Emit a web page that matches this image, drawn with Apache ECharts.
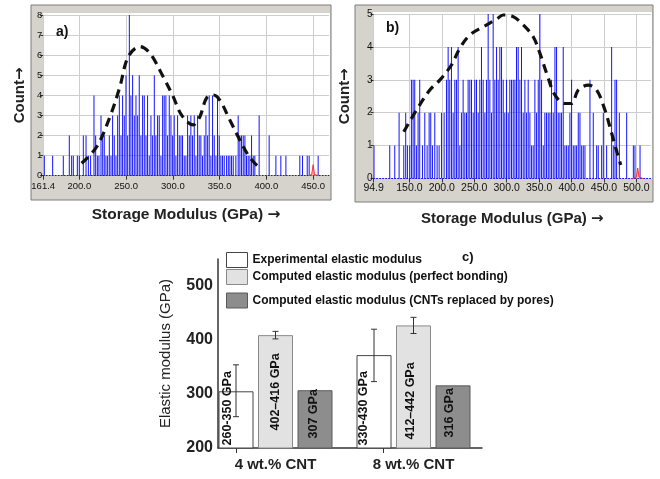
<!DOCTYPE html>
<html><head><meta charset="utf-8">
<script src="https://cdn.jsdelivr.net/npm/echarts@6/dist/echarts.min.js"></script>
<style>html,body{margin:0;padding:0;background:#fff}#c{width:660px;height:479px}</style>
</head><body><div id="c"></div>
<script>
// ---------- Panel a) histogram ----------
const aModulus = [162.6,171.5,182.9,189.3,191.8,193.6,197.9,200.0,204.3,207.2,209.7,212.1,215.7,217.5,219.3,221.0,223.2,225.0,226.7,228.5,230.3,232.1,233.9,235.6,237.4,239.2,241.0,242.8,244.6,246.3,248.1,249.9,251.7,253.5,255.2,257.0,258.8,260.6,262.4,264.1,265.9,267.7,269.5,271.3,273.0,274.8,276.6,278.4,280.2,281.9,283.7,285.5,287.3,289.1,290.8,292.6,294.4,296.2,298.0,299.8,301.5,303.3,305.1,306.9,308.7,310.4,312.2,314.0,315.8,317.6,319.3,321.1,322.9,324.7,326.5,328.2,330.0,331.8,333.6,335.4,337.2,338.9,340.7,342.5,344.3,346.1,347.8,349.6,351.4,353.2,355.0,357.5,359.3,361.0,362.8,364.6,367.4,369.9,371.7,373.5,375.3,377.1,378.8,380.6,382.4,384.2,386.0,387.7,392.3,403.0,410.2,415.5,420.9,435.8,438.7,443.7,445.8,455.4];
const aCount = [1,1,1,2,1,1,1,1,2,2,1,1,4,2,1,1,3,2,2,1,1,2,1,3,2,1,3,4,2,4,3,5,2,8,4,5,3,4,3,5,2,4,4,2,4,1,3,2,5,2,3,3,1,4,4,4,2,4,3,2,3,1,3,2,2,2,1,1,3,2,3,2,3,1,3,2,2,1,2,3,2,4,1,4,2,1,4,2,1,1,1,1,1,1,1,1,1,3,2,2,2,2,1,1,1,2,1,1,3,2,1,1,1,1,1,1,1,1];
const aFitX = [202.5,218.6,232.8,243.4,252.3,264.8,275.5,289.7,300.4,309.4,321.8,328.9,336.0,343.1,350.2,360.9,371.6,380.5,387.7,394.0];
const aFitY = [0.62,1.44,2.94,4.43,5.93,6.43,6.10,4.93,3.94,3.02,2.53,2.94,3.86,4.02,3.77,2.78,1.78,1.03,0.62,0.35];
const aMarkX = [445,448.5,450,451.5,456];
const aMarkY = [0,0.06,0.55,0.06,0];
const aTicks = [161.4,200,250,300,350,400,450];

// ---------- Panel b) histogram ----------
const bModulus = [95.5,119.8,127.5,134.2,141.4,144.4,147.0,150.6,153.2,155.8,158.3,160.9,163.5,166.0,170.2,173.8,177.4,180.5,183.0,185.6,189.2,192.8,195.9,199.5,203.6,207.2,209.8,212.3,214.9,217.5,220.1,222.6,225.2,227.8,230.3,232.9,235.5,238.1,240.6,243.2,245.8,248.4,250.9,253.5,256.1,258.6,261.2,263.8,266.4,268.9,271.5,274.1,276.6,279.2,281.8,284.4,286.9,289.5,292.1,294.7,297.2,299.8,302.4,304.9,307.5,310.1,312.7,315.2,317.8,320.4,322.9,325.5,328.1,330.7,333.2,335.8,338.4,340.9,343.5,346.1,348.7,351.2,353.8,356.4,358.9,361.5,364.1,366.7,369.2,371.8,374.4,376.9,379.5,382.1,384.6,387.2,389.8,392.4,395.0,397.5,400.1,402.7,405.3,407.8,410.4,413.0,415.6,418.1,420.7,428.4,433.5,438.7,441.2,446.4,449.0,454.1,461.8,464.4,467.0,469.5,473.7,485.0,495.3,497.8,505.6];
const bCount = [1,1,1,2,1,2,1,1,3,3,3,1,2,3,1,2,1,2,2,1,2,1,1,2,2,3,4,3,4,2,3,3,4,1,2,3,2,2,3,3,3,2,3,3,2,3,4,3,2,3,5,3,2,5,3,4,3,4,4,3,2,3,2,3,3,3,3,4,4,3,4,2,3,2,3,2,1,1,3,2,3,5,3,1,2,2,2,2,3,2,4,4,2,2,2,4,1,1,1,2,3,1,1,1,2,2,1,1,1,3,2,1,1,1,2,1,4,1,3,3,2,2,1,1,1];
const bFitX = [141.4,161.0,181.5,196.9,214.9,227.8,243.2,263.8,284.4,294.6,310.0,325.5,340.9,351.2,361.6,374.4,389.8,400.1,410.4,425.8,438.7,451.5,461.9,470.5,475.8];
const bFitY = [1.42,2.08,2.69,2.99,3.45,3.96,4.36,4.61,4.84,4.97,4.92,4.67,4.31,3.81,3.20,2.54,2.28,2.28,2.69,2.84,2.69,2.08,1.37,0.77,0.41];
const bMarkX = [494,500,502,504,510];
const bMarkY = [0,0.05,0.32,0.05,0];
const bTicks = [94.9,150,200,250,300,350,400,450,500];

// ---------- Panel c) bar chart ----------
const cCategories = ['4 wt.% CNT','8 wt.% CNT'];
const cSeriesNames = ['Experimental elastic modulus','Computed elastic modulus (perfect bonding)','Computed elastic modulus (CNTs replaced by pores)'];
const cExperimental = [305,372];
const cExperimentalLow = [258,323];
const cExperimentalHigh = [354,420];
const cPerfect = [409,427];
const cPerfectLow = [402,412];
const cPerfectHigh = [416,442];
const cPores = [307,316];
const cBarLabels = [['260-350 GPa','330-430 GPa'],['402–416 GPa','412–442 GPa'],['307 GPa','316 GPa']];
const cYTicks = [200,300,400,500];

// ---------- styling / layout ----------
const FONT = "'Liberation Sans', Arial, sans-serif";
const NARROW = "'Liberation Sans Narrow', 'Liberation Sans', Arial, sans-serif";
const ARROWFONT = "'DejaVu Sans', sans-serif";
const BLUE = '#1414ff';
const GRIDC = '#cdcdcd';
const barW = 35, barGapPx = 4.5;
const slot = barW + barGapPx;
// screen-space label shifts [dx, dy] (converted to the rotated label frame below)
const labelShift = [[[-8,-3],[-10.5,-3]],[[0,-18],[-2.5,-9]],[[-1,-10],[-3.5,-11]]];
const toLocal = s => [-s[1], s[0]];
const cFills = ['#ffffff','#e2e2e2','#8d8d8d'];
const cBorders = ['#444','#8a8a8a','#5a5a5a'];
const cGroupPos = cCategories.map((_, i) => i + 1);

const chart = echarts.init(document.getElementById('c'), null, {renderer:'canvas'});

function richName(fs){
  return {fontFamily:FONT, fontWeight:'bold', fontSize:fs, color:'#222',
    rich:{t:{fontFamily:FONT, fontWeight:'bold', fontSize:fs, color:'#222'},
          ar:{fontFamily:ARROWFONT, fontWeight:'bold', fontSize:fs, color:'#222'}}};
}
function histAxisX(idx, min, max, ticks, fs, margin){
  const nfs = idx===0?15.5:15;
  return {type:'value', gridIndex:idx, min:min, max:max,
    name:'{t|Storage Modulus (GPa) }{ar|→}', nameLocation:'middle', nameGap: idx===0?31:33,
    nameTextStyle:richName(nfs),
    axisLine:{show:true, onZero:false, lineStyle:{color:BLUE, width:1, type:[1,2]}},
    axisTick:{show:true, customValues:ticks, length:4, lineStyle:{color:'#333'}},
    axisLabel:{customValues:ticks, formatter:v=>Number(v).toFixed(1), fontFamily:NARROW, fontSize:fs, color:'#111', margin:margin},
    splitLine:{show:true, lineStyle:{color:GRIDC, width:1}}};
}
function histAxisY(idx, max, fs, gap){
  return {type:'value', gridIndex:idx, min:0, max:max, interval:1,
    name:'{t|Count}{ar|→}', nameLocation:'middle', nameGap:gap, nameRotate:90,
    nameTextStyle:richName(15),
    axisLine:{show:false},
    axisTick:{show:true, length:3, lineStyle:{color:'#333'}},
    axisLabel:{fontFamily:NARROW, fontSize:fs, color:'#111', margin:1},
    splitLine:{show:true, lineStyle:{color:GRIDC, width:1}}};
}

const option = {
  animation:false,
  backgroundColor:'#ffffff',
  textStyle:{fontFamily:FONT},
  graphic:[
    {type:'rect', z:-10, shape:{x:31,y:5,width:300,height:195}, style:{fill:'#d6d3cc', stroke:'#7c7c7c', lineWidth:1}},
    {type:'rect', z:-9, shape:{x:43,y:13,width:287,height:163}, style:{fill:'#ffffff'}},
    {type:'rect', z:-10, shape:{x:355,y:5,width:298,height:197}, style:{fill:'#d6d3cc', stroke:'#7c7c7c', lineWidth:1}},
    {type:'rect', z:-9, shape:{x:373,y:12,width:279,height:167}, style:{fill:'#ffffff'}}
  ],
  title:[
    {text:'a)', left:56, top:25, padding:0, textStyle:{fontFamily:FONT, fontSize:14, fontWeight:'bold', color:'#111'}},
    {text:'b)', left:386, top:21, padding:0, textStyle:{fontFamily:FONT, fontSize:14, fontWeight:'bold', color:'#111'}},
    {text:'c)', left:462, top:251, padding:0, textStyle:{fontFamily:FONT, fontSize:13, fontWeight:'bold', color:'#111'}}
  ],
  legend: cSeriesNames.map((n, i) => ({
    data:[n], left:226, top:[252,269,292.5][i], padding:0, orient:'vertical',
    itemWidth:21, itemHeight:15, icon:'rect', selectedMode:false,
    itemStyle:{color:cFills[i], borderColor:cBorders[i], borderWidth:1},
    textStyle:{fontFamily:FONT, fontSize:12, fontWeight:'bold', color:'#111'}
  })),
  grid:[
    {left:43.2, right:331, top:15.1, bottom:303.3},
    {left:373.6, right:9, top:14, bottom:300.5},
    {left:218, right:178, top:259, bottom:31}
  ],
  xAxis:[
    histAxisX(0, 161.4, 467, aTicks, 9.5, 6),
    histAxisX(1, 94.9, 522.5, bTicks, 10.5, 4),
    {type:'value', gridIndex:2, min:0.5833, max:2.4963,
      axisLine:{show:true, lineStyle:{color:'#333', width:1.5}},
      axisTick:{show:true, customValues:[0.7138,1.779], length:5, lineStyle:{color:'#333'}},
      axisLabel:{customValues:cGroupPos, formatter:v=>cCategories[Math.round(v)-1], fontFamily:FONT, fontSize:15, fontWeight:'bold', color:'#222', margin:9},
      splitLine:{show:false}}
  ],
  yAxis:[
    histAxisY(0, 8, 9.5, 16),
    histAxisY(1, 5, 10, 21),
    {type:'value', gridIndex:2, min:200, max:550,
      name:'Elastic modulus (GPa)', nameLocation:'middle', nameGap:45, nameRotate:90,
      nameTextStyle:{fontFamily:FONT, fontSize:15, color:'#222'},
      axisLine:{show:true, lineStyle:{color:'#333', width:1.5}},
      axisTick:{show:false, customValues:cYTicks},
      axisLabel:{customValues:cYTicks, fontFamily:FONT, fontSize:16, fontWeight:'bold', color:'#222', margin:5},
      splitLine:{show:false}}
  ],
  series:[
    {type:'bar', xAxisIndex:0, yAxisIndex:0, barWidth:1, itemStyle:{color:BLUE},
      data:aModulus.map((x,i)=>[x,aCount[i]]), z:3},
    {type:'line', xAxisIndex:0, yAxisIndex:0, data:aMarkX.map((x,i)=>[x,aMarkY[i]]), symbol:'none',
      lineStyle:{color:'#ff3030', width:1}, areaStyle:{color:'rgba(255,80,80,0.5)'}, z:4},
    {type:'line', xAxisIndex:0, yAxisIndex:0, data:aFitX.map((x,i)=>[x,aFitY[i]]), smooth:0.35, symbol:'none',
      lineStyle:{color:'#111', width:3.2, type:[9,6]}, z:5},
    {type:'bar', xAxisIndex:1, yAxisIndex:1, barWidth:1, itemStyle:{color:BLUE},
      data:bModulus.map((x,i)=>[x,bCount[i]]), z:3},
    {type:'line', xAxisIndex:1, yAxisIndex:1, data:bMarkX.map((x,i)=>[x,bMarkY[i]]), symbol:'none',
      lineStyle:{color:'#ff3030', width:1}, areaStyle:{color:'rgba(255,80,80,0.5)'}, z:4},
    {type:'line', xAxisIndex:1, yAxisIndex:1, data:bFitX.map((x,i)=>[x,bFitY[i]]), smooth:0.35, symbol:'none',
      lineStyle:{color:'#111', width:3.2, type:[9,6]}, z:5},
  ].concat([cExperimental, cPerfect, cPores].map((vals, s) => ({
    type:'bar', name:cSeriesNames[s], xAxisIndex:2, yAxisIndex:2, barWidth:barW, barGap:(barGapPx/barW*100)+'%',
    itemStyle:{color:cFills[s], borderColor:cBorders[s], borderWidth:1},
    label:{show:true, position:'insideBottom', distance:0, rotate:90, align:'left', verticalAlign:'middle',
      fontFamily:FONT, fontSize:12.5, fontWeight:'bold', color:'#111'},
    data:cGroupPos.map((x,i)=>({value:[x, vals[i]], label:{formatter:cBarLabels[s][i], offset:toLocal(labelShift[s][i])}}))
  }))).concat([[cExperimentalLow, cExperimentalHigh, -1],[cPerfectLow, cPerfectHigh, 0]].map(([lo, hi, k]) => ({
    type:'custom', xAxisIndex:2, yAxisIndex:2, z:6,
    data:cGroupPos.map((x,i)=>[x, lo[i], hi[i]]),
    encode:{x:0, y:[1,2]},
    renderItem:(params, api) => {
      const p1 = api.coord([api.value(0), api.value(1)]);
      const p2 = api.coord([api.value(0), api.value(2)]);
      const cx = p1[0] + k*slot, c = 3;
      const st = {stroke:'#333', lineWidth:1};
      return {type:'group', children:[
        {type:'line', shape:{x1:cx,y1:p1[1],x2:cx,y2:p2[1]}, style:st},
        {type:'line', shape:{x1:cx-c,y1:p1[1],x2:cx+c,y2:p1[1]}, style:st},
        {type:'line', shape:{x1:cx-c,y1:p2[1],x2:cx+c,y2:p2[1]}, style:st}
      ]};
    }
  })))
};
chart.setOption(option);
</script></body></html>
